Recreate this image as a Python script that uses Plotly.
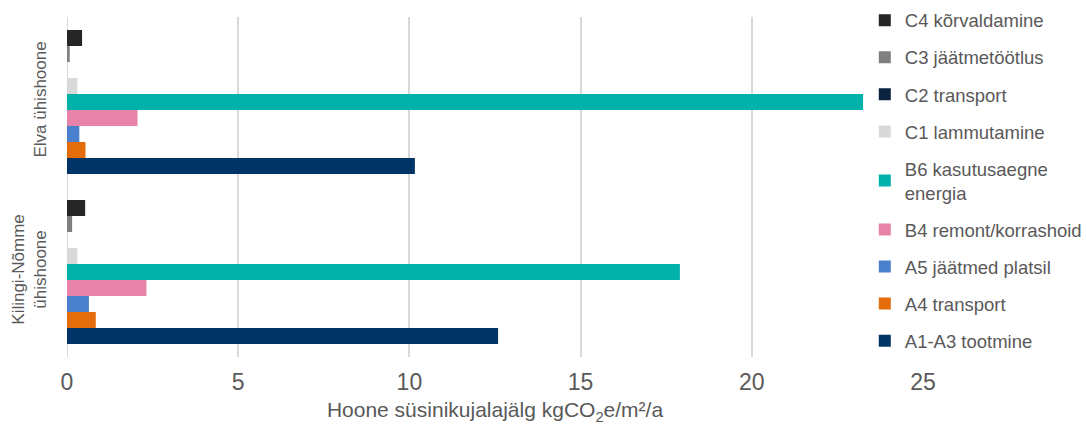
import plotly.graph_objects as go

buildings = ["Kilingi-Nõmme<br>ühishoone", "Elva ühishoone"]

stages = [
    "A1-A3 tootmine",
    "A4 transport",
    "A5 jäätmed platsil",
    "B4 remont/korrashoid",
    "B6 kasutusaegne<br>energia",
    "C1 lammutamine",
    "C2 transport",
    "C3 jäätmetöötlus",
    "C4 kõrvaldamine",
]

# values per stage: [Kilingi-Nõmme, Elva]
a1_a3 = [12.59, 10.16]
a4 = [0.84, 0.54]
a5 = [0.64, 0.36]
b4 = [2.32, 2.06]
b6 = [17.9, 23.25]
c1 = [0.30, 0.30]
c2 = [0.0, 0.0]
c3 = [0.15, 0.08]
c4 = [0.53, 0.44]

series = [a1_a3, a4, a5, b4, b6, c1, c2, c3, c4]
colors = ["#003366", "#E46C0A", "#4A80CB", "#E783A9", "#00B2A9",
          "#D9D9D9", "#0C2340", "#808080", "#262626"]

x_ticks = [0, 5, 10, 15, 20, 25]

fig = go.Figure()
n = len(stages)
for i, (name, vals, col) in enumerate(zip(stages, series, colors)):
    fig.add_trace(go.Bar(
        y=buildings, x=vals, name=name, orientation="h",
        marker=dict(color=col, line=dict(width=0)),
        legendgroup=name, legendrank=n - i,
    ))

grey = "#595959"
fig.update_layout(
    width=1087, height=426,
    margin=dict(l=67, r=164, t=17, b=69, autoexpand=False),
    plot_bgcolor="white", paper_bgcolor="white",
    barmode="group", bargap=0.153, bargroupgap=0,
    font=dict(family="Liberation Sans, Arial, sans-serif", color=grey),
    showlegend=True,
    legend=dict(
        traceorder="grouped", tracegroupgap=10,
        x=0.932, xanchor="left", y=1.045, yanchor="top",
        bgcolor="rgba(0,0,0,0)", font=dict(size=18.5, color=grey),
        itemwidth=30, maxheight=426,
    ),
    xaxis=dict(
        range=[0, 25], tickvals=x_ticks, ticktext=[str(t) for t in x_ticks],
        showgrid=True, gridcolor="#D9D9D9", gridwidth=1.5,
        zeroline=False, showline=False, ticks="",
        tickfont=dict(size=23, color=grey), ticklabelstandoff=9,
        title=dict(text="Hoone süsinikujalajälg kgCO<sub>2</sub>e/m²/a",
                   font=dict(size=21, color=grey), standoff=8),
    ),
    yaxis=dict(
        showgrid=False, zeroline=False, showline=False, ticks="",
        tickangle=-90, tickfont=dict(size=17, color=grey),
        ticklabelstandoff=17,
        range=[-0.5, 1.5],
    ),
    shapes=[dict(type="line", xref="x", yref="paper", x0=0, x1=0, y0=0, y1=1,
                 line=dict(color="#D9D9D9", width=2), layer="below")],
)

fig.write_html("out.html")
